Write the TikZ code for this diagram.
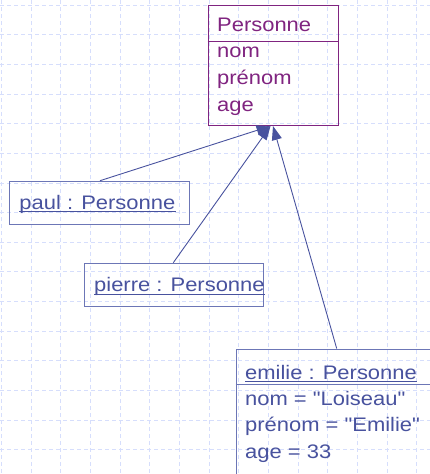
\documentclass[tikz,border=0pt]{standalone}
\usepackage{fontspec}
\setmainfont[FakeStretch=1.12, Ligatures=TeXOff]{Liberation Sans}
\usetikzlibrary{arrows.meta}
\definecolor{gridblue}{RGB}{214,222,252}
\definecolor{objblue}{RGB}{72,82,158}
\definecolor{objedge}{RGB}{108,118,182}
\definecolor{clspurple}{RGB}{128,36,128}
\begin{document}
\begin{tikzpicture}[x=1pt,y=-1pt,
  font=\fontsize{19.6}{23}\selectfont,
  gridline/.style={draw=gridblue, line width=0.8pt, dash pattern=on 4pt off 3pt},
  box/.style={draw, line width=1pt, inner sep=0pt, anchor=north west},
  objbox/.style={box, draw=objedge},
  clsbox/.style={box, draw=clspurple},
  txt/.style={inner sep=0pt, anchor=base west},
  objtxt/.style={txt, text=objblue},
  clstxt/.style={txt, text=clspurple},
  uline/.style={draw=objblue, line width=0.9pt},
  gen/.style={draw=objblue, line width=0.9pt,
    -{Triangle[length=14pt,width=10pt,fill=objblue]}}]
\useasboundingbox (0,0) rectangle (430,474);
\clip (0,0) rectangle (430,474);

% dashed background grid
\foreach \i in {0,...,14}
  \draw[gridline] ({1.5+29.65*\i},0) -- ({1.5+29.65*\i},474);
\foreach \j in {0,...,15}
  \draw[gridline] (0,{5+29.65*\j}) -- (430,{5+29.65*\j});

% class Personne
\node[clsbox, minimum width=130.2pt, minimum height=119.7pt] (cls) at (207.5,5.3) {};
\draw[clspurple, line width=1pt] ([yshift=-36pt]cls.north west) -- ([yshift=-36pt]cls.north east);
\node[clstxt] (clsname) at (217,31) {Personne};
\node[clstxt] (clsnom) at (217,57.3) {nom};
\node[clstxt] (clsprenom) at (217,84.5) {prénom};
\node[clstxt] (clsage) at (217,111.5) {age};

% object paul
\node[objbox, minimum width=180pt, minimum height=43.3pt] (paul) at (9.3,180.7) {};
\node[objtxt] (paultxt) at (19.3,209.3) {paul : Personne};
\draw[uline] ([yshift=-2.4pt]paultxt.base west) -- ([yshift=-2.4pt]paultxt.base east);

% object pierre
\node[objbox, minimum width=179.3pt, minimum height=43pt] (pierre) at (84,262.7) {};
\node[objtxt] (pierretxt) at (94,291.8) {pierre : Personne};
\draw[uline] ([yshift=-2.4pt]pierretxt.base west) -- ([yshift=-2.4pt]pierretxt.base east);

% object emilie
\node[objbox, minimum width=220pt, minimum height=150pt] (emi) at (235.5,348.5) {};
\draw[objedge, line width=1pt] ([yshift=-36pt]emi.north west) -- ([yshift=-36pt]emi.north east);
\node[objtxt] (emitxt) at (245,379.3) {emilie : Personne};
\draw[uline] ([yshift=-2.4pt]emitxt.base west) -- ([yshift=-2.4pt]emitxt.base east);
\node[objtxt] (eminom) at (245,405.7) {nom = "Loiseau"};
\node[objtxt] (emiprenom) at (245,431) {prénom = "Emilie"};
\node[objtxt] (emiage) at (245,458.3) {age = 33};

% instance-of links
\coordinate (tipA) at ([xshift=63pt]cls.south west);
\coordinate (tipB) at ([xshift=65.5pt]cls.south west);
\draw[gen] ([xshift=90.7pt]paul.north west) -- (tipA);
\draw[gen] ([xshift=89.3pt]pierre.north west) -- (tipA);
\draw[gen] ([xshift=101.2pt]emi.north west) -- (tipB);
\end{tikzpicture}
\end{document}
